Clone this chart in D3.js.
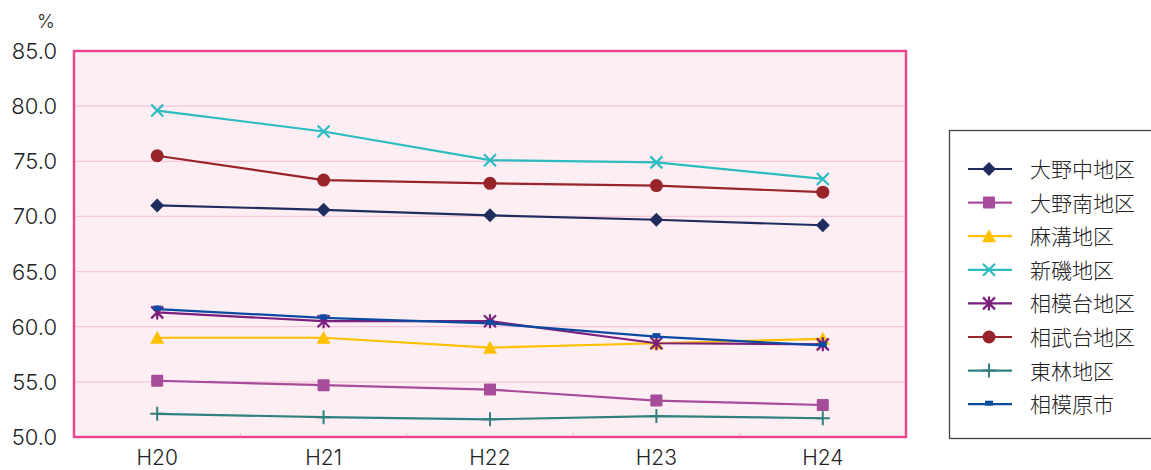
<!DOCTYPE html>
<html><head><meta charset="utf-8">
<script src="https://cdn.jsdelivr.net/npm/d3@7"></script>
<style>body{margin:0;background:#fff;} text{font-family:"Noto Sans CJK JP","Noto Sans",sans-serif;font-weight:300;} .num{font-family:"Inter","Noto Sans",sans-serif;font-weight:300;}</style>
</head><body><svg id="c" width="1151" height="470"></svg>
<script>
const categories = ["H20","H21","H22","H23","H24"];
const yTicks = [50,55,60,65,70,75,80,85];
const seriesNames = ["大野中地区","大野南地区","麻溝地区","新磯地区","相模台地区","相武台地区","東林地区","相模原市"];
const s_oonoNaka = [71.0,70.6,70.1,69.7,69.2];
const s_oonoMinami = [55.1,54.7,54.3,53.3,52.9];
const s_asamizo = [59.0,59.0,58.1,58.5,58.9];
const s_araiso = [79.6,77.7,75.1,74.9,73.4];
const s_sagamidai = [61.3,60.5,60.5,58.5,58.4];
const s_soubudai = [75.5,73.3,73.0,72.8,72.2];
const s_tourin = [52.1,51.8,51.6,51.9,51.7];
const s_city = [61.6,60.8,60.3,59.1,58.3];
const seriesValues = [s_oonoNaka,s_oonoMinami,s_asamizo,s_araiso,s_sagamidai,s_soubudai,s_tourin,s_city];
const colors = ["#1f2d5e","#a64c9b","#ffc000","#2bbcc0","#7a1f7b","#962428","#2f807e","#0a4aa0"];
const markers = ["diamond","square","triangle","x","star","circle","plus","dash"];
const drawOrder = [6,1,2,4,7,0,5,3];

const svg = d3.select("#c");
const L=74,R=906,T=51,B=437;
const x = d3.scaleBand().domain(categories).range([L,R]);
const y = d3.scaleLinear().domain([50,85]).range([B,T]);

svg.append("rect").attr("x",L).attr("y",T).attr("width",R-L).attr("height",B-T).attr("fill","#fdeef4");
svg.selectAll(".grid").data(yTicks.slice(1,-1)).enter().append("line")
  .attr("x1",L).attr("x2",R).attr("y1",d=>y(d)).attr("y2",d=>y(d))
  .attr("stroke","#f8c6da").attr("stroke-width",1.2);
svg.selectAll(".ct").data(categories.slice(1)).enter().append("line")
  .attr("x1",d=>x(d)).attr("x2",d=>x(d)).attr("y1",B).attr("y2",B-4)
  .attr("stroke","#f3b8d0").attr("stroke-width",1);
svg.append("rect").attr("x",L).attr("y",T).attr("width",R-L).attr("height",B-T)
  .attr("fill","none").attr("stroke","#e8478f").attr("stroke-width",2.5);

svg.selectAll(".yl").data(yTicks).enter().append("text").attr("class","num")
  .attr("x",57).attr("y",d=>y(d)+8).attr("text-anchor","end")
  .attr("font-size",22).attr("fill","#222").text(d=>d.toFixed(1));
svg.append("text").attr("class","num").attr("x",46).attr("y",28).attr("text-anchor","middle").attr("font-size",19).attr("fill","#222").text("%");
svg.selectAll(".xl").data(categories).enter().append("text").attr("class","num")
  .attr("x",d=>x(d)+x.bandwidth()/2).attr("y",465).attr("text-anchor","middle")
  .attr("font-size",21).attr("fill","#222").text(d=>d);

function drawMarker(g,type,cx,cy,color){
  const m=g.append("g").attr("transform",`translate(${cx},${cy})`);
  if(type==="diamond") m.append("path").attr("d","M0,-7L7,0L0,7L-7,0Z").attr("fill",color);
  else if(type==="square") m.append("rect").attr("x",-6).attr("y",-6).attr("width",12).attr("height",12).attr("rx",1).attr("fill",color);
  else if(type==="triangle") m.append("path").attr("d","M0,-7L7,6L-7,6Z").attr("fill",color);
  else if(type==="circle") m.append("circle").attr("r",6.5).attr("fill",color);
  else if(type==="x") m.append("path").attr("d","M-6,-6L6,6M-6,6L6,-6").attr("stroke",color).attr("stroke-width",2.2);
  else if(type==="star") m.append("path").attr("d","M-6,-6L6,6M-6,6L6,-6M0,-7L0,7").attr("stroke",color).attr("stroke-width",2.2);
  else if(type==="plus") m.append("path").attr("d","M-7,0L7,0M0,-7L0,7").attr("stroke",color).attr("stroke-width",2);
  else if(type==="dash") m.append("rect").attr("x",-4).attr("y",-3.5).attr("width",8).attr("height",5).attr("fill",color);
}

const line = d3.line().x((d,i)=>x(categories[i])+x.bandwidth()/2).y(d=>y(d));
drawOrder.forEach(si=>{
  const g=svg.append("g");
  g.append("path").attr("d",line(seriesValues[si])).attr("fill","none").attr("stroke",colors[si]).attr("stroke-width",2.2);
  seriesValues[si].forEach((v,i)=>drawMarker(g,markers[si],x(categories[i])+x.bandwidth()/2,y(v),colors[si]));
});

svg.append("rect").attr("x",949.5).attr("y",130.5).attr("width",205).attr("height",308).attr("fill","#fff").attr("stroke","#444").attr("stroke-width",1.3);
seriesNames.forEach((n,i)=>{
  const ly=169+i*33.6;
  const g=svg.append("g");
  g.append("line").attr("x1",968).attr("x2",1012).attr("y1",ly).attr("y2",ly).attr("stroke",colors[i]).attr("stroke-width",2.2);
  drawMarker(g,markers[i],989,ly,colors[i]);
  g.append("text").attr("x",1030).attr("y",ly+8).attr("font-size",21).attr("fill","#222").text(n);
});
</script></body></html>
